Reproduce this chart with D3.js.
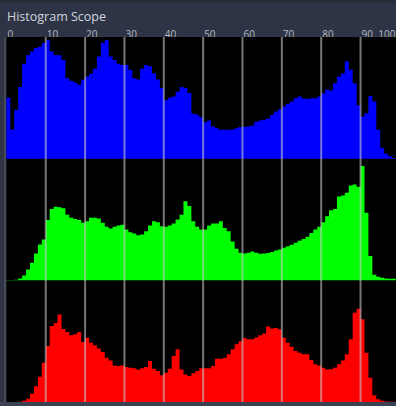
<!DOCTYPE html>
<html>
<head>
<meta charset="utf-8">
<script src="https://cdn.jsdelivr.net/npm/d3@7"></script>
<style>
  html, body { margin: 0; padding: 0; background: #2e3445; }
  #chart { width: 396px; height: 406px; overflow: hidden; }
  svg { display: block; }
</style>
</head>
<body>
<div id="chart"></div>
<script>
// Histogram scope – three channel histograms, one bin per percent (0..99)
const TICKS = [0, 10, 20, 30, 40, 50, 60, 70, 80, 90, 100];
const CHANNELS = ["blue", "green", "red"];

// relative counts (0..100 = full panel height)
const BLUE = [
  50, 24, 40, 59, 78, 85, 88, 91, 92, 95,
  97.5, 88, 85, 85, 81, 66, 64, 62.6, 60.7, 64.8,
  67.5, 69.7, 74, 84, 95, 97.5, 84, 81, 78, 77,
  77, 73, 66, 65, 74, 77, 76, 70, 65, 58,
  48, 50, 51, 55, 59, 58, 54, 37, 36, 34,
  30, 31.4, 26.5, 25, 23.8, 23.8, 23.8, 24, 25, 26,
  26.2, 26.5, 27.3, 30.3, 31.4, 32, 33, 35.8, 38.8, 40.7,
  42.9, 45, 47, 49.7, 51, 49.5, 49, 49.7, 49.7, 51,
  53.8, 56.6, 56, 62, 67.5, 70, 80, 73, 62, 44,
  34.7, 37.4, 51.6, 47, 23.8, 8.7, 4, 2, 0.5, 0.3
];
const GREEN = [
  0.3, 0.3, 0.5, 1.6, 4, 9, 14.5, 22, 29.5, 33.6,
  49.5, 58.7, 60.4, 60, 59.3, 54, 51.4, 50.5, 49.5, 47.3,
  48.6, 51.4, 51.4, 50.8, 47.3, 44, 42.6, 44, 45, 45.6,
  41.8, 39.6, 38.5, 37, 37.7, 40.4, 45, 48.6, 47.8, 44.5,
  44, 45, 46.7, 50, 54, 65, 61, 48.6, 44, 41.8,
  41.8, 45, 46.7, 46.7, 48.6, 43, 40.4, 32, 26, 22.7,
  22, 22.7, 23.8, 22.7, 21.9, 22, 22.4, 23.2, 24.6, 25.4,
  26.8, 28, 29.2, 30.9, 32.5, 34, 35.8, 39, 41.8, 44,
  47.8, 52.7, 57.7, 58.7, 69, 69.7, 71.9, 77.9, 78.7, 77,
  94, 55.5, 20, 4.6, 3, 2.2, 1.6, 1.4, 1.4, 1
];
const RED = [
  0, 0, 0, 0.3, 1, 2.7, 6.8, 13, 20.8, 32.3,
  46, 62.5, 65, 72, 60, 57.5, 54.8, 55.6, 57.5, 49.3,
  52.9, 48.8, 46.6, 44, 41, 36.4, 34.2, 30, 29.6, 30,
  28.8, 28.2, 27.7, 26.8, 27.7, 28.8, 33.7, 27.4, 25.5, 21.9,
  24.1, 27.4, 37.8, 43.3, 26.8, 22.7, 21.4, 23.6, 25.5, 27.7,
  27.7, 27.7, 29.6, 35.6, 35.6, 36.4, 39.2, 43.3, 47.4, 50,
  52.6, 51.5, 51.5, 53, 54.8, 56.4, 62, 60.5, 60.8, 59.7,
  52.9, 48.8, 45.5, 41.9, 40.5, 39.2, 39.2, 34.5, 31, 30.1,
  28.2, 26.8, 27, 28.2, 31, 34.2, 39.2, 51.5, 73.4, 76.7,
  68, 40.5, 20, 5.5, 2.2, 1.1, 0.5, 0.3, 0.3, 0.3
];
const SERIES = [BLUE, GREEN, RED];
const FILLS = { blue: "#0000ff", green: "#00ff00", red: "#ff0000" };

const W = 396, H = 406;
const plot = { left: 6.4, right: 399.9, top: 37, bottom: 402 };
const panelH = (plot.bottom - plot.top) / CHANNELS.length;

const svg = d3.select("#chart").append("svg")
  .attr("width", W).attr("height", H);

// header + frame
svg.append("rect").attr("width", W).attr("height", H).attr("fill", "#2e3445");
svg.append("rect").attr("width", W).attr("height", 3).attr("fill", "#262b37");
svg.append("rect")
  .attr("x", 0).attr("y", plot.bottom - 0.5).attr("width", W).attr("height", H - plot.bottom + 0.5)
  .attr("fill", "#3a4150");
svg.append("rect")
  .attr("x", 4).attr("y", plot.top).attr("width", 2.5).attr("height", plot.bottom - plot.top)
  .attr("fill", "#444a58");

svg.append("text")
  .attr("x", 7).attr("y", 20.5)
  .attr("font-family", "'Open Sans', 'Noto Sans', sans-serif")
  .attr("font-size", 12.5)
  .attr("fill", "#d0d4dc")
  .text("Histogram Scope");

const x = d3.scaleLinear().domain([0, 100]).range([plot.left, plot.right]);

// tick labels sit just right of each grid line; the last one is end-anchored
// so it stays inside the window
svg.append("g").selectAll("text")
  .data(TICKS).join("text")
    .attr("x", d => d === 100 ? W - 0.5 : x(d) + 1)
    .attr("text-anchor", d => d === 100 ? "end" : "start")
    .attr("y", 37.5)
    .attr("font-family", "'Open Sans', 'Noto Sans', sans-serif")
    .attr("font-size", 10)
    .attr("fill", "#b4b8c2")
    .text(d => d);

svg.append("rect")
  .attr("x", plot.left).attr("y", plot.top)
  .attr("width", plot.right - plot.left).attr("height", plot.bottom - plot.top)
  .attr("fill", "#000");

CHANNELS.forEach((ch, k) => {
  const vals = SERIES[k];
  const y0 = plot.top + panelH * (k + 1);
  const y = d3.scaleLinear().domain([0, 100]).range([y0, y0 - panelH]);
  const pts = vals.map((v, i) => [i, v]).concat([[vals.length, vals[vals.length - 1]]]);
  const area = d3.area()
    .curve(d3.curveStepAfter)
    .x(d => x(d[0]))
    .y0(y(0))
    .y1(d => y(d[1]));
  svg.append("path")
    .datum(pts)
    .attr("d", area)
    .attr("fill", FILLS[ch]);
});

// vertical grid
svg.append("g").selectAll("line")
  .data(TICKS.slice(1))
  .join("line")
    .attr("x1", d => x(d)).attr("x2", d => x(d))
    .attr("y1", plot.top).attr("y2", plot.bottom)
    .attr("stroke", "#c4c4c4")
    .attr("stroke-opacity", 0.6)
    .attr("stroke-width", 2);
</script>
</body>
</html>
